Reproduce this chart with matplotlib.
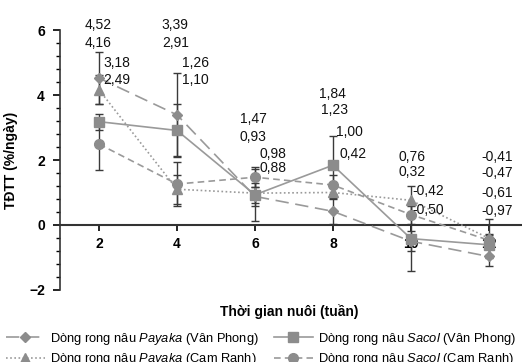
import numpy as np
import matplotlib.pyplot as plt

plt.rcParams['font.family'] = ['Liberation Sans', 'DejaVu Sans']
plt.rcParams['mathtext.fontset'] = 'custom'
plt.rcParams['mathtext.it'] = 'Liberation Sans:italic'
plt.rcParams['mathtext.rm'] = 'Liberation Sans'

weeks = [2, 4, 6, 8, 10, 12]
payaka_vp = [4.52, 3.39, 0.88, 0.42, -0.50, -0.97]
sacol_vp = [3.18, 2.91, 0.93, 1.84, -0.42, -0.61]
payaka_cr = [4.16, 1.10, 0.98, 1.00, 0.76, -0.41]
sacol_cr = [2.49, 1.26, 1.47, 1.23, 0.32, -0.47]
err_payaka_vp = [0.8, 1.3, 0.3, 0.4, 0.3, 0.3]
err_sacol_vp = [0.25, 0.8, 0.8, 0.9, 1.0, 0.3]
err_payaka_cr = [0.45, 0.45, 0.3, 0.2, 0.45, 0.6]
err_sacol_cr = [0.8, 0.68, 0.3, 0.3, 0.3, 0.2]

# label text per week, in the order they are stacked in the picture
labels = [
    ['4,52', '4,16', '3,18', '2,49'],
    ['3,39', '2,91', '1,26', '1,10'],
    ['1,47', '0,93', '0,98', '0,88'],
    ['1,84', '1,23', '1,00', '0,42'],
    ['0,76', '0,32', '-0,42', '-0,50'],
    ['-0,41', '-0,47', '-0,61', '-0,97'],
]
# label layout (dx, y) in data units
label_pos = [
    [(-0.36, 6.15), (-0.36, 5.6), (0.1, 4.98), (0.1, 4.46)],
    [(-0.39, 6.15), (-0.39, 5.6), (0.13, 4.98), (0.13, 4.46)],
    [(-0.39, 3.26), (-0.39, 2.71), (0.12, 2.18), (0.12, 1.75)],
    [(-0.36, 4.03), (-0.3, 3.54), (0.08, 2.86), (0.18, 2.17)],
    [(-0.33, 2.09), (-0.33, 1.63), (0.05, 1.05), (0.05, 0.46)],
    [(-0.2, 2.09), (-0.2, 1.6), (-0.2, 0.98), (-0.2, 0.43)],
]

fig = plt.figure(figsize=(5.22, 3.62), dpi=100)
ax = fig.add_axes([0.115, 0.199, 0.885, 0.718])

mc = '#8c8c8c'
ec = '#3a3a3a'
series = [
    (payaka_vp, err_payaka_vp, 'D', (0, (8, 4)), r'Dòng rong nâu $\it{Payaka}$ (Vân Phong)', 5.5),
    (payaka_cr, err_payaka_cr, '^', (0, (1, 1.5)), r'Dòng rong nâu $\it{Payaka}$ (Cam Ranh)', 7),
    (sacol_vp, err_sacol_vp, 's', '-', r'Dòng rong nâu $\it{Sacol}$ (Vân Phong)', 7.5),
    (sacol_cr, err_sacol_cr, 'o', (0, (4, 2.5)), r'Dòng rong nâu $\it{Sacol}$ (Cam Ranh)', 7),
]
handles = []
for vals, err, m, ls, lab, ms in series:
    ax.errorbar(weeks, vals, yerr=err, fmt='none', ecolor=ec, elinewidth=1, capsize=3, zorder=2)
    h, = ax.plot(weeks, vals, color='#9a9a9a', linestyle=ls, linewidth=1.2, marker=m,
                 markersize=ms, markerfacecolor=mc, markeredgecolor=mc, label=lab, zorder=3)
    handles.append(h)

for i, w in enumerate(weeks):
    for t, (dx, y) in zip(labels[i], label_pos[i]):
        ax.text(w + dx, y, t, fontsize=10, ha='left', va='center', color='#111111')

ax.set_xlim(1, 12.85)
ax.set_ylim(-2, 6)
ax.spines['top'].set_visible(False)
ax.spines['right'].set_visible(False)
ax.spines['bottom'].set_position(('data', 0))
ax.spines['bottom'].set_color('#333333')
ax.spines['left'].set_color('#333333')
ax.spines['bottom'].set_linewidth(1.5)
ax.spines['left'].set_linewidth(1.2)
ax.set_xticks(weeks)
ax.set_yticks([-2, 0, 2, 4, 6])
ax.set_yticks(np.arange(-2, 6.01, 0.4), minor=True)
ax.tick_params(axis='y', which='major', length=5, width=1.2, labelsize=10, pad=6)
ax.tick_params(axis='y', which='minor', length=3, width=1)
ax.tick_params(axis='x', length=4, width=1.2, labelsize=10, pad=5)
for t in ax.get_xticklabels() + ax.get_yticklabels():
    t.set_fontweight('bold')

ax.set_ylabel('TĐTT (%/ngày)', fontsize=10, fontweight='bold', labelpad=8)
fig.text(0.555, 0.138, 'Thời gian nuôi (tuần)', fontsize=10, fontweight='bold', ha='center', va='center')

fig.legend(handles=handles, loc='center', bbox_to_anchor=(0.5, 0.036), ncol=2, frameon=False,
           fontsize=9.3, handlelength=3, columnspacing=1.2, labelspacing=0.35, handletextpad=0.4)

fig.savefig('out.png', dpi=100)
